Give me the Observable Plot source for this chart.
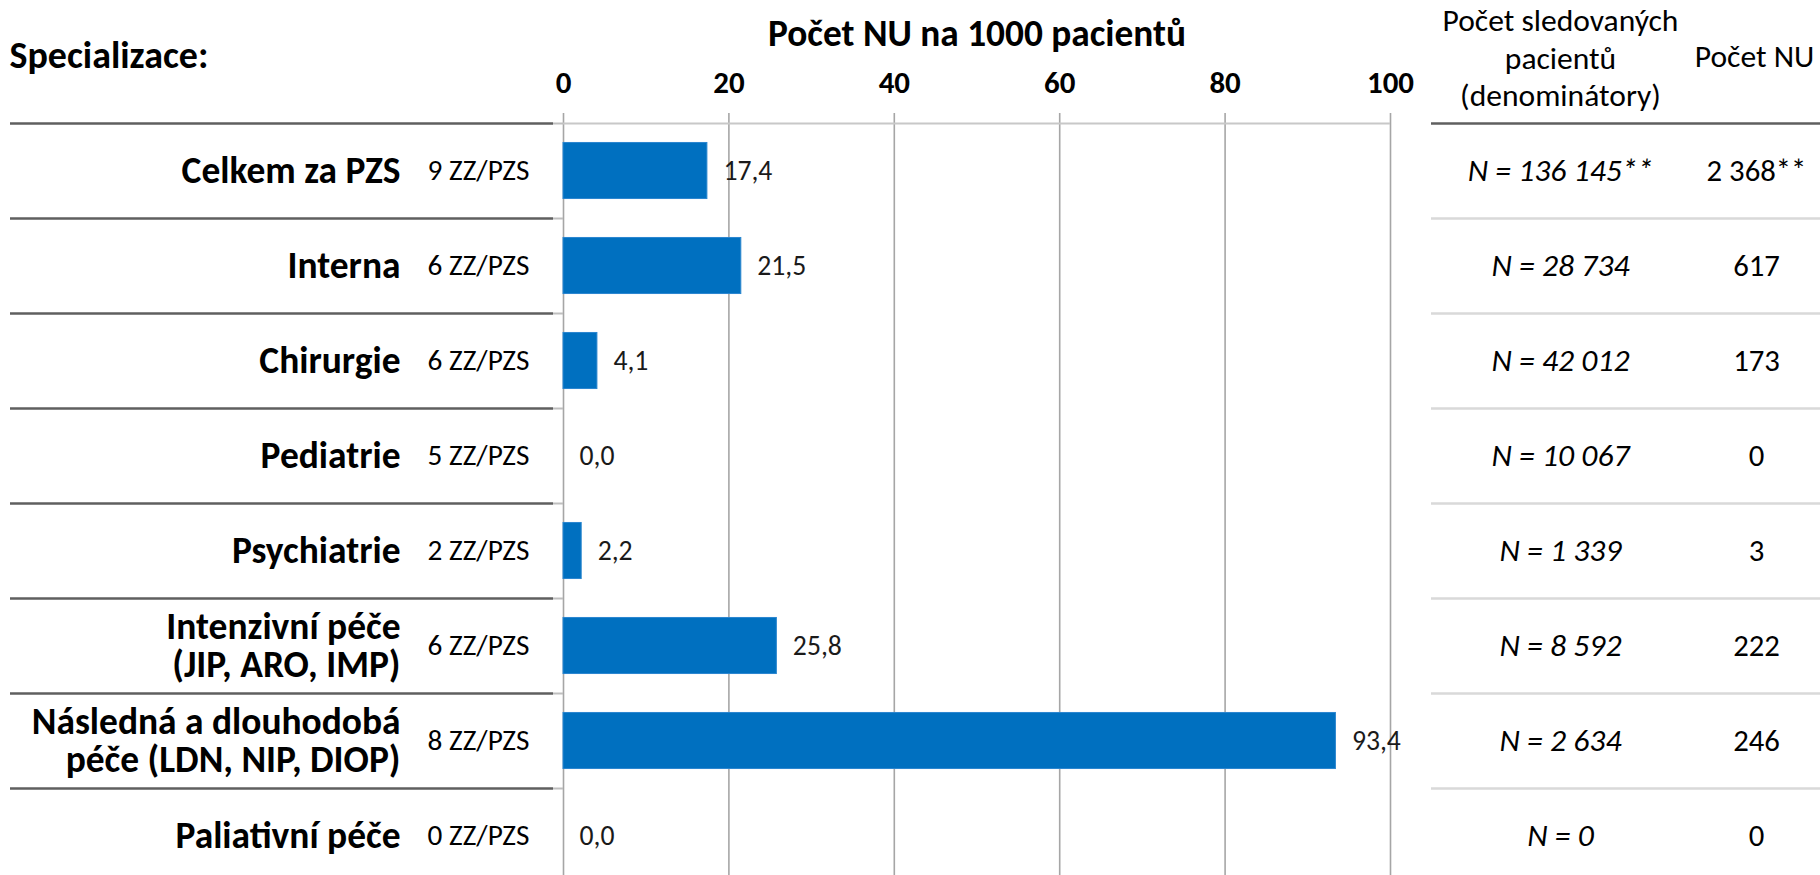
<!DOCTYPE html>
<html>
<head>
<meta charset="utf-8">
<script src="https://cdn.jsdelivr.net/npm/d3@7"></script>
<script src="https://cdn.jsdelivr.net/npm/@observablehq/plot@0.6"></script>
<style>
  html, body { margin: 0; padding: 0; background: #fff; }
  #chart svg { display: block; }
</style>
</head>
<body>
<div id="chart"></div>
<script>
// ---- data ----
const categories = [
  "Celkem za PZS",
  "Interna",
  "Chirurgie",
  "Pediatrie",
  "Psychiatrie",
  "Intenzivní péče\n(JIP, ARO, IMP)",
  "Následná a dlouhodobá\npéče (LDN, NIP, DIOP)",
  "Paliativní péče"
];
const zzCounts = [9, 6, 6, 5, 2, 6, 8, 0];
const rates = [17.4, 21.5, 4.1, 0.0, 2.2, 25.8, 93.4, 0.0];
const denominators = [136145, 28734, 42012, 10067, 1339, 8592, 2634, 0];
const nuCounts = [2368, 617, 173, 0, 3, 222, 246, 0];
const footnotes = ["**", "", "", "", "", "", "", ""];
const xTicks = [0, 20, 40, 60, 80, 100];
const titleText = "Počet NU na 1000 pacientů";
const specText = "Specializace:";
const headDenom = "Počet sledovaných\npacientů\n(denominátory)";
const headCount = "Počet NU";

// ---- helpers ----
const FAMILY = "Carlito, Calibri, Lato, sans-serif";
const cz = d3.formatLocale({decimal: ",", thousands: " ", grouping: [3], currency: ["", " Kč"]});
const fmtRate = cz.format(".1f");
const fmtInt = cz.format(",d");
const ctx = document.createElement("canvas").getContext("2d");
function fit(text, target, weight = "normal", style = "normal") {
  ctx.font = `${style} ${weight} 100px ${FAMILY}`;
  return +(100 * target / ctx.measureText(text).width).toFixed(2);
}
const fsCat = fit("Celkem za PZS", 219, "bold");
const fsZZ = fit("9 ZZ/PZS", 102);
const fsTitle = fit(titleText, 418, "bold");
const fsTick = fit("100", 47, "bold");
const fsVal = fit("25,8", 49);
const fsN = fit("N = 28 734", 138, "normal", "italic");
const fsCnt = fit("617", 46.7);
const fsHead = fit("Počet sledovaných", 236);
const fsSpec = fit(specText, 199, "bold");

const rows = categories.map((c, i) => ({
  cat: c,
  zz: `${zzCounts[i]} ZZ/PZS`,
  rate: rates[i],
  nText: `N = ${fmtInt(denominators[i])}${footnotes[i]}`,
  cText: `${fmtInt(nuCounts[i])}${footnotes[i]}`
}));

const W = 1820, H = 875;
const mL = 563, mR = 430, topY = 123;
const step = 95;
const yRange = [topY, topY + step * categories.length];

const chart = Plot.plot({
  width: W,
  height: H,
  marginLeft: mL,
  marginRight: mR,
  marginTop: topY,
  marginBottom: 0,
  style: {fontFamily: FAMILY, background: "#fff", color: "#000", overflow: "visible"},
  x: {domain: [0, 100], axis: null},
  y: {domain: categories, range: yRange, paddingInner: 0.41, paddingOuter: 0.205, round: false, axis: null},
  marks: [
    Plot.ruleX(xTicks, {x: d => d, stroke: "#a6a6a6", strokeWidth: 1.6, insetTop: -10}),
    Plot.ruleY([categories[0]], {y: d => d, dy: -step / 2, stroke: "#c8c8c8", strokeWidth: 2}),
    Plot.ruleY(categories, {y: d => d, dy: -step / 2, stroke: "#bfbfbf", strokeWidth: 2, insetLeft: -10, insetRight: W - mL - mR}),
    Plot.ruleY(categories, {y: d => d, dy: -step / 2, stroke: "#5f5f5f", strokeWidth: 2.6, insetLeft: -(mL - 10), insetRight: (W - mR) - 553}),
    Plot.ruleY(categories.slice(1), {y: d => d, dy: -step / 2, stroke: "#d9d9d9", strokeWidth: 2.4, insetLeft: 1431 - mL, insetRight: -mR}),
    Plot.ruleY([categories[0]], {y: d => d, dy: -step / 2, stroke: "#5f5f5f", strokeWidth: 2.6, insetLeft: 1431 - mL, insetRight: -mR}),
    Plot.barX(rows, {x: "rate", y: "cat", fill: "#0070c0", stroke: "#2a86cf", strokeWidth: 1}),
    Plot.text(rows, {x: "rate", y: "cat", text: d => fmtRate(d.rate), textAnchor: "start", dx: 16, fontSize: fsVal, fill: "#1a1a1a"}),
    Plot.text(rows, {y: "cat", text: "cat", frameAnchor: "left", textAnchor: "end", dx: 400 - mL, fontSize: fsCat, fontWeight: "bold", lineHeight: 1.0, fill: "#000"}),
    Plot.text(rows, {y: "cat", text: "zz", frameAnchor: "left", textAnchor: "start", dx: 427 - mL, fontSize: fsZZ, fill: "#000"}),
    Plot.text(rows, {y: "cat", text: "nText", frameAnchor: "right", textAnchor: "middle", dx: 1560 - (W - mR), fontSize: fsN, fontStyle: "italic", fill: "#000"}),
    Plot.text(rows, {y: "cat", text: "cText", frameAnchor: "right", textAnchor: "middle", dx: 1756 - (W - mR), fontSize: fsCnt, fill: "#000"}),
    Plot.text(xTicks, {x: d => d, text: d => String(d), frameAnchor: "top", lineAnchor: "middle", dy: 83 - topY, fontSize: fsTick, fontWeight: "bold", fill: "#000"}),
    Plot.text([titleText], {text: d => d, frameAnchor: "top", lineAnchor: "middle", dy: 34 - topY, fontSize: fsTitle, fontWeight: "bold", fill: "#000"}),
    Plot.text([specText], {text: d => d, frameAnchor: "top-left", textAnchor: "start", lineAnchor: "middle", dx: 9 - mL, dy: 55 - topY, fontSize: fsSpec, fontWeight: "bold", fill: "#000"}),
    Plot.text([headDenom], {text: d => d, frameAnchor: "top-right", textAnchor: "middle", lineAnchor: "middle", dx: 1560 - (W - mR), dy: 56 - topY, fontSize: fsHead, lineHeight: 1.2, fill: "#000"}),
    Plot.text([headCount], {text: d => d, frameAnchor: "top-right", textAnchor: "middle", lineAnchor: "middle", dx: 1754 - (W - mR), dy: 56 - topY, fontSize: fsHead, fill: "#000"})
  ]
});
document.getElementById("chart").appendChild(chart);
</script>
</body>
</html>
